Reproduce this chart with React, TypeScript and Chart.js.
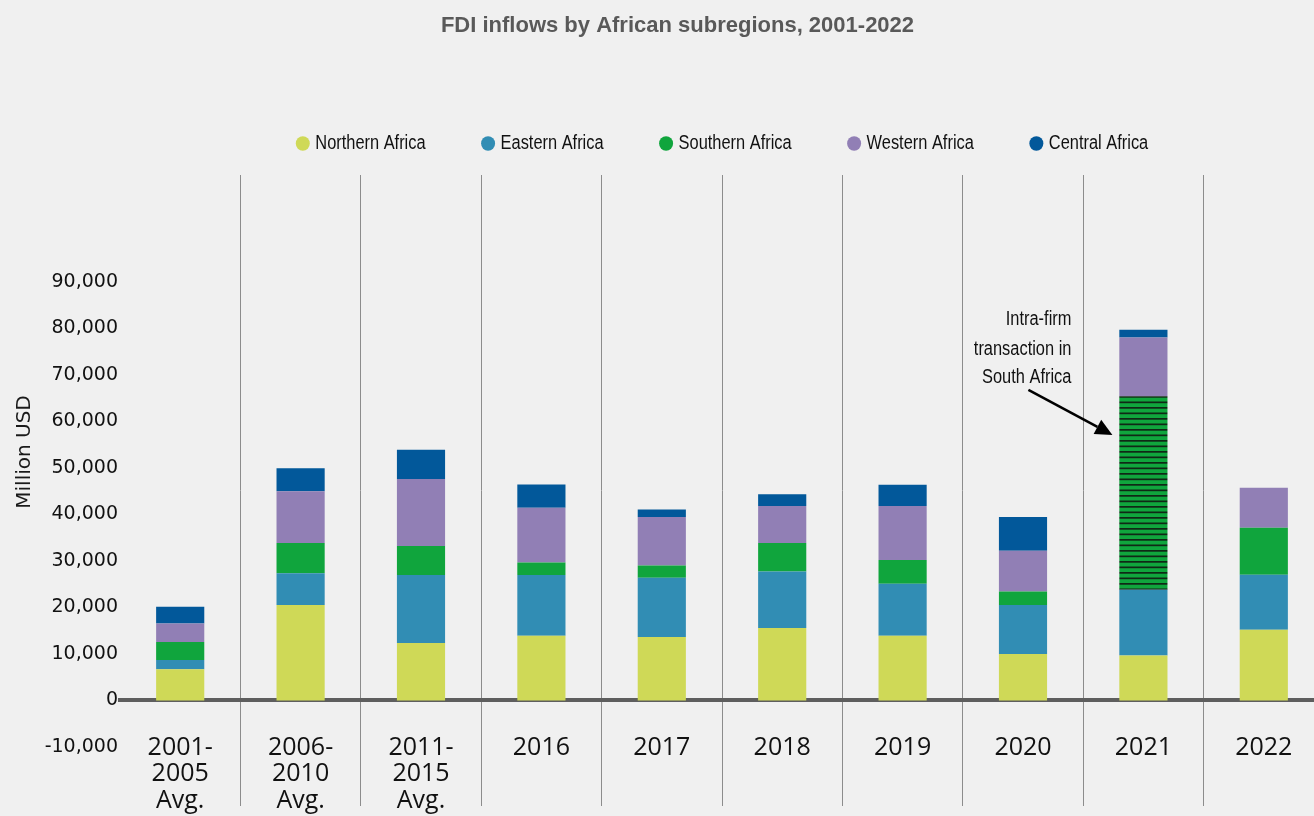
import React, { useEffect, useRef } from 'react';
import { Chart, registerables } from 'chart.js';

Chart.register(...registerables);

// ---------- data ----------
const categories: (string | string[])[] = [
  ['2001-', '2005', 'Avg.'],
  ['2006-', '2010', 'Avg.'],
  ['2011-', '2015', 'Avg.'],
  '2016', '2017', '2018', '2019', '2020', '2021', '2022',
];
const northernAfrica = [6700, 20500, 12370, 13930, 13650, 15580, 13930, 10000, 9640, 15220];
const easternAfrica = [2000, 6850, 14630, 13070, 12710, 12130, 11140, 10510, 14150, 11790];
const southernAfrica = [3850, 6500, 6220, 2640, 2640, 6150, 5150, 2910, 41640, 10140];
const westernAfrica = [4000, 11150, 14420, 11785, 10430, 7930, 11570, 8790, 12640, 8570];
const centralAfrica = [3600, 4930, 6300, 5015, 1650, 2570, 4570, 7220, 1650, null];
const yTicks = [-10000, 0, 10000, 20000, 30000, 40000, 50000, 60000, 70000, 80000, 90000];

const titleText = 'FDI inflows by African subregions, 2001-2022';
const yTitleText = 'Million USD';
const hatchedCategory = '2021';
const annotationLines = ['Intra-firm', 'transaction in', 'South Africa'];
const annotationLineValues = [81850, 75550, 69550];
const arrowStartValue = 66800;
const arrowEndValue = 57100;

// ---------- style ----------
const COLORS = {
  northern: '#cfd957',
  eastern: '#318db4',
  southern: '#10a53d',
  western: '#917fb5',
  central: '#02589a',
};
const SANS = "'Liberation Sans', Arial, sans-serif";
const NARROW_SCALE = 0.82;

function narrowText(ctx: CanvasRenderingContext2D, text: string, x: number, y: number) {
  ctx.save();
  ctx.translate(x, y);
  ctx.scale(NARROW_SCALE, 1);
  ctx.fillText(text, 0, 0);
  ctx.restore();
}

const legendPlugin = {
  id: 'narrowLegend',
  afterDraw(chart: any) {
    const { ctx, chartArea } = chart;
    ctx.save();
    ctx.font = `20px ${SANS}`;
    const items = chart.data.datasets.map((ds: any) => ({
      label: ds.label as string,
      color: Array.isArray(ds.backgroundColor) ? COLORS.southern : ds.backgroundColor,
      w: ctx.measureText(ds.label).width * NARROW_SCALE,
    }));
    const markerD = 14;
    const markerGap = 5.5;
    const spacing = 55.5;
    const total =
      items.reduce((s: number, it: any) => s + markerD + markerGap + it.w, 0) + spacing * (items.length - 1);
    let x = (chartArea.left + chartArea.right) / 2 - total / 2;
    const yc = chartArea.top - 31.5;
    ctx.textAlign = 'left';
    ctx.textBaseline = 'middle';
    items.forEach((it: any) => {
      ctx.fillStyle = it.color;
      ctx.beginPath();
      ctx.ellipse(x + markerD / 2, yc, markerD / 2, markerD / 2 + 0.3, 0, 0, Math.PI * 2);
      ctx.fill();
      ctx.fillStyle = '#111111';
      narrowText(ctx, it.label, x + markerD + markerGap, yc);
      x += markerD + markerGap + it.w + spacing;
    });
    ctx.restore();
  },
};

const notesPlugin = {
  id: 'notes',
  afterDraw(chart: any) {
    const { ctx, scales } = chart;
    const x = scales.x;
    const y = scales.y;
    const idx = categories.findIndex((c) => c === hatchedCategory);
    const cx = x.getPixelForValue(idx);
    ctx.save();
    // annotation text
    ctx.fillStyle = '#111111';
    ctx.font = `20px ${SANS}`;
    ctx.textAlign = 'right';
    ctx.textBaseline = 'middle';
    annotationLines.forEach((t, i) => {
      narrowText(ctx, t, cx - 72, y.getPixelForValue(annotationLineValues[i]));
    });
    // arrow
    const x1 = cx - 115;
    const y1 = y.getPixelForValue(arrowStartValue);
    const x2 = cx - 31;
    const y2 = y.getPixelForValue(arrowEndValue);
    const ang = Math.atan2(y2 - y1, x2 - x1);
    const headLen = 17;
    const headW = 8;
    const bx = x2 - headLen * Math.cos(ang);
    const by = y2 - headLen * Math.sin(ang);
    ctx.strokeStyle = '#000';
    ctx.lineWidth = 2.5;
    ctx.beginPath();
    ctx.moveTo(x1, y1);
    ctx.lineTo(bx, by);
    ctx.stroke();
    ctx.fillStyle = '#000';
    ctx.beginPath();
    ctx.moveTo(x2, y2);
    ctx.lineTo(bx + headW * Math.sin(ang), by - headW * Math.cos(ang));
    ctx.lineTo(bx - headW * Math.sin(ang), by + headW * Math.cos(ang));
    ctx.closePath();
    ctx.fill();
    // y axis title
    ctx.translate(25, 452);
    ctx.rotate(-Math.PI / 2);
    ctx.font = "20px 'DejaVu Sans', sans-serif";
    ctx.textAlign = 'center';
    ctx.fillStyle = '#1a1a1a';
    ctx.fillText(yTitleText, 0, 0);
    ctx.restore();
  },
};

export default function App() {
  const canvasRef = useRef<HTMLCanvasElement | null>(null);

  useEffect(() => {
    document.body.style.margin = '0';
    document.body.style.background = '#f0f0f0';
    const canvas = canvasRef.current;
    if (!canvas) return;
    const ctx = canvas.getContext('2d')!;

    const pc = document.createElement('canvas');
    pc.width = 8;
    pc.height = 11;
    const p = pc.getContext('2d')!;
    p.fillStyle = COLORS.southern;
    p.fillRect(0, 0, 8, 11);
    p.fillStyle = '#102816';
    p.fillRect(0, 0, 8, 1.7);
    p.fillRect(0, 5.5, 8, 1.7);
    const pattern = ctx.createPattern(pc, 'repeat');

    const hatchIdx = categories.findIndex((c) => c === hatchedCategory);
    const southernColors = southernAfrica.map((_, i) => (i === hatchIdx ? pattern : COLORS.southern));

    const common = { barPercentage: 0.4, categoryPercentage: 1.0, borderWidth: 0 };

    const chart = new Chart(ctx, {
      type: 'bar',
      data: {
        labels: categories as any,
        datasets: [
          { label: 'Northern Africa', data: northernAfrica, backgroundColor: COLORS.northern, ...common },
          { label: 'Eastern Africa', data: easternAfrica, backgroundColor: COLORS.eastern, ...common },
          { label: 'Southern Africa', data: southernAfrica, backgroundColor: southernColors as any, ...common },
          { label: 'Western Africa', data: westernAfrica, backgroundColor: COLORS.western, ...common },
          { label: 'Central Africa', data: centralAfrica as any, backgroundColor: COLORS.central, ...common },
        ],
      },
      options: {
        responsive: false,
        animation: false,
        devicePixelRatio: 1,
        layout: { padding: { left: 31, right: 30, top: 0, bottom: 10 } },
        plugins: {
          title: {
            display: true,
            text: titleText,
            color: '#595959',
            font: { family: SANS, size: 22, weight: 'bold', lineHeight: 1.2 },
            padding: { top: 13, bottom: 135.6 },
          },
          legend: { display: false },
          tooltip: { enabled: false },
        },
        scales: {
          x: {
            stacked: true,
            position: { y: 0 } as any,
            offset: true,
            z: 1,
            grid: {
              display: true,
              offset: true,
              drawTicks: false,
              color: (c: any) => (c.index > 0 ? '#8c8c8c' : 'rgba(0,0,0,0)'),
              lineWidth: 1,
            },
            border: { display: true, color: '#5e5e5e', width: 4 },
            ticks: {
              autoSkip: false,
              maxRotation: 0,
              minRotation: 0,
              padding: 34,
              color: '#111111',
              font: { family: "'Open Sans', sans-serif", size: 25, lineHeight: 1.06 },
            },
          },
          y: {
            stacked: true,
            min: -22700,
            max: 113000,
            afterBuildTicks: (axis: any) => {
              axis.ticks = yTicks.map((v) => ({ value: v }));
            },
            afterFit: (axis: any) => {
              axis.width = 89;
            },
            grid: { display: false, drawTicks: false },
            border: { display: false },
            ticks: {
              padding: 2,
              color: '#111111',
              font: { family: "'DejaVu Sans', sans-serif", size: 19, lineHeight: 0.8 },
              callback: (v: any) => Number(v).toLocaleString('en-US'),
            },
          },
        },
      },
      plugins: [legendPlugin, notesPlugin],
    });

    return () => chart.destroy();
  }, []);

  return (
    <div style={{ width: 1314, height: 816, overflow: 'hidden', background: '#f0f0f0', position: 'relative' }}>
      <canvas ref={canvasRef} width={1354} height={816} style={{ display: 'block', width: 1354, height: 816 }} />
    </div>
  );
}
